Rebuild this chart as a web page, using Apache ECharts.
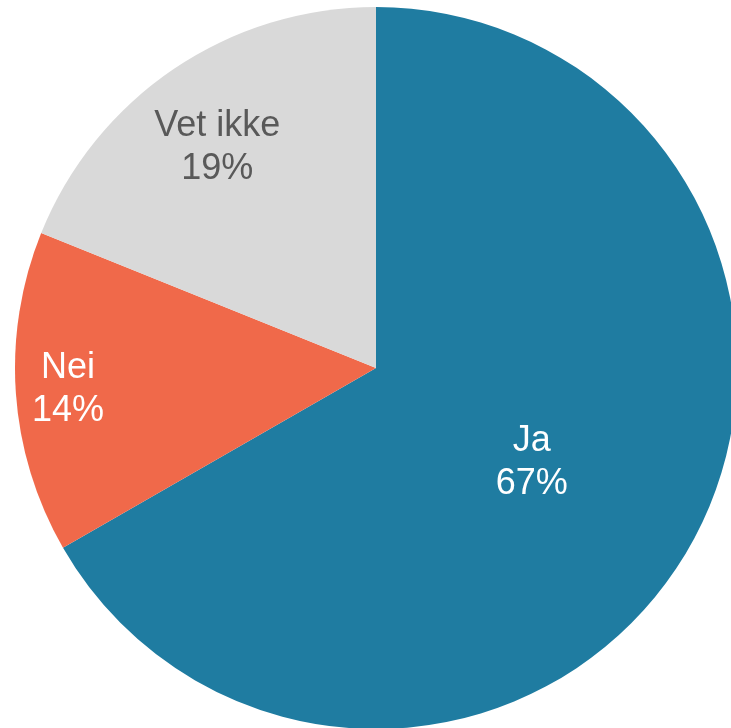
<!DOCTYPE html>
<html>
<head>
<meta charset="utf-8">
<script src="https://cdn.jsdelivr.net/npm/echarts@6/dist/echarts.min.js"></script>
<style>
  html, body { margin: 0; padding: 0; background: #fff; }
  #chart { width: 731px; height: 728px; }
</style>
</head>
<body>
<div id="chart"></div>
<script>
// 数据
var categories = ['Ja', 'Nei', 'Vet ikke']
var values = [66.7, 14.4, 18.9]
var colors = ['#1f7ca1', '#f0694a', '#d9d9d9']
var labelColors = ['#ffffff', '#ffffff', '#595959']
// label shift from default inside spot
var labelShift = [[-3, 3], [-125, 9], [-56, -68]]

var chart = echarts.init(document.getElementById('chart'))
chart.setOption({
  animation: false,
  series: [{
    type: 'pie',
    center: [376, 368],
    radius: [0, 361],
    startAngle: 90,
    clockwise: true,
    silent: true,
    label: {
      show: true,
      position: 'inside',
      formatter: function (p) {
        return p.name + '\n' + Math.round(p.percent) + '%'
      },
      fontFamily: 'Liberation Sans, Arial, sans-serif',
      fontSize: 36,
      lineHeight: 43
    },
    labelLine: { show: false },
    labelLayout: function (params) {
      var s = labelShift[params.dataIndex]
      return { dx: s[0], dy: s[1] }
    },
    data: categories.map(function (name, i) {
      return {
        name: name,
        value: values[i],
        itemStyle: { color: colors[i] },
        label: { color: labelColors[i] }
      }
    })
  }]
})
</script>
</body>
</html>
